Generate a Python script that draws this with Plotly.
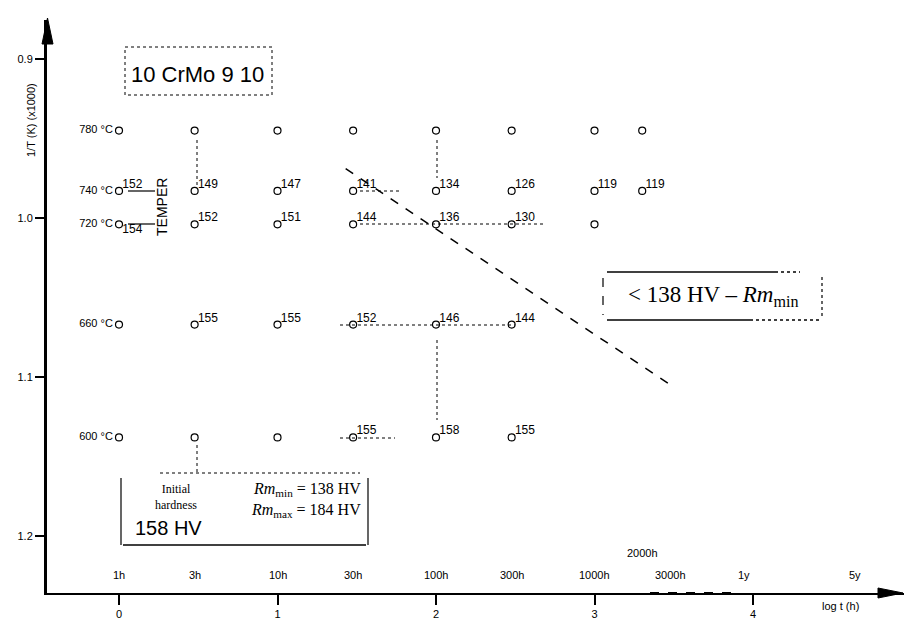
import numpy as np
import plotly.graph_objects as go

# ---------------- data ----------------
hour_cols = [1, 3, 10, 30, 100, 300, 1000, 2000]
temps = ["780 °C", "740 °C", "720 °C", "660 °C", "600 °C"]
inv_T = [0.945, 0.983, 1.004, 1.067, 1.138]          # 1000/T

row_hours = [
    [1, 3, 10, 30, 100, 300, 1000, 2000],
    [1, 3, 10, 30, 100, 300, 1000, 2000],
    [1, 3, 10, 30, 100, 300, 1000],
    [1, 3, 10, 30, 100, 300],
    [1, 3, 10, 30, 100, 300],
]
row_hardness = [
    [None] * 8,
    [152, 149, 147, 141, 134, 126, 119, 119],
    [154, 152, 151, 144, 136, 130, None],
    [None, 155, 155, 152, 146, 144],
    [None, None, None, 155, 158, 155],
]

limit_x = [1.43, 3.51]        # log t of the 138 HV limit line
limit_y = [0.969, 1.107]      # 1000/T of the limit line

time_hours = [1, 3, 10, 30, 100, 300, 1000, 3000, 8760, 43800]
time_labels = ["1h", "3h", "10h", "30h", "100h", "300h", "1000h", "3000h", "1y", "5y"]
x_ticks = [0, 1, 2, 3, 4]
y_ticks = [0.9, 1.0, 1.1, 1.2]
y_tick_labels = ["0.9", "1.0", "1.1", "1.2"]

# ---------------- geometry ----------------
W, H = 904, 621
L, R, T, B = 47, 0, 20, 28
PXX = 158.5       # px per log unit
PXY = 1590.0      # px per 1/T unit
X0 = 119          # px of log t = 0
Y0 = 59           # px of 0.9


def dx(p):
    return (p - X0) / PXX


def dy(p):
    return 0.9 + (p - Y0) / PXY


def px_paper(p):
    return (p - L) / (W - L - R)


def py_paper(p):
    return (H - B - p) / (H - B - T)


xr = [dx(L), dx(W - R)]
yr = [dy(H - B), dy(T)]

fig = go.Figure()

FONT = "Liberation Sans, Arial, sans-serif"
SERIF = "Liberation Serif, Times New Roman, serif"

# limit line
fig.add_trace(go.Scatter(x=limit_x, y=limit_y, mode="lines",
                         line=dict(color="black", width=1.5, dash="dash"),
                         hoverinfo="skip", showlegend=False))

# points and hardness labels
for idx, (yv, hrs, hv) in enumerate(zip(inv_T, row_hours, row_hardness)):
    xs = np.log10(hrs)
    ys = [yv] * len(hrs)
    fig.add_trace(go.Scatter(
        x=xs, y=ys, mode="markers",
        marker=dict(symbol="circle-open", size=7, color="black", line=dict(width=1.2)),
        showlegend=False, hoverinfo="skip"))
    lx, ly, lt, lp = [], [], [], []
    for j, (xv, h) in enumerate(zip(xs, hv)):
        if h is None:
            continue
        lx.append(xv)
        ly.append(yv)
        lt.append(" " + str(h))
        lp.append("bottom right" if (idx == 2 and j == 0) else "top right")
    if lt:
        fig.add_trace(go.Scatter(
            x=lx, y=ly, mode="text", text=lt, textposition=lp,
            textfont=dict(family=FONT, size=12, color="black"),
            showlegend=False, hoverinfo="skip"))

# temperature labels
fig.add_trace(go.Scatter(
    x=[np.log10(r[0]) for r in row_hours], y=inv_T, mode="text",
    text=[t + "  " for t in temps], textposition="middle left",
    textfont=dict(family=FONT, size=11, color="black"),
    showlegend=False, hoverinfo="skip"))

ann = []
# time labels above axis
for h, lab in zip(time_hours, time_labels):
    ann.append(dict(x=np.log10(h), y=dy(575), text=lab, showarrow=False,
                    xanchor="center", yanchor="middle",
                    font=dict(family=FONT, size=11, color="black")))
ann.append(dict(x=np.log10(2000), y=dy(553), text="2000h", showarrow=False,
                xanchor="center", yanchor="middle",
                font=dict(family=FONT, size=11, color="black")))
ann.append(dict(x=px_paper(840), y=py_paper(606), xref="paper", yref="paper",
                xanchor="center", yanchor="middle",
                text="log t (h)", showarrow=False,
                font=dict(family=FONT, size=11, color="black")))
# y axis title
ann.append(dict(x=px_paper(31), y=py_paper(120), xref="paper", yref="paper",
                xanchor="center", yanchor="middle",
                text="1/T (K) (x1000)", textangle=-90, showarrow=False,
                font=dict(family=FONT, size=11, color="black")))
# title
ann.append(dict(x=dx(197), y=dy(74), text="10 CrMo 9 10", showarrow=False,
                xanchor="center", yanchor="middle",
                font=dict(family=FONT, size=22, color="black")))
# TEMPER
ann.append(dict(x=dx(162), y=dy(207), text="TEMPER", textangle=-90, showarrow=False,
                xanchor="center", yanchor="middle",
                font=dict(family=FONT, size=14, color="black")))
# limit box text
ann.append(dict(x=dx(713), y=dy(296),
                xanchor="center", yanchor="middle",
                text="&lt; 138 HV – <i>Rm</i><sub>min</sub>", showarrow=False,
                font=dict(family=SERIF, size=23, color="black")))
# initial hardness box
ann.append(dict(x=dx(176), y=dy(497), text="Initial<br>hardness", showarrow=False,
                xanchor="center", yanchor="middle",
                font=dict(family=SERIF, size=12, color="black")))
ann.append(dict(x=dx(168), y=dy(528), text="158 HV", showarrow=False,
                xanchor="center", yanchor="middle",
                font=dict(family=FONT, size=20, color="black")))
ann.append(dict(x=dx(363), y=dy(489), xanchor="right", yanchor="middle",
                text="<i>Rm</i><sub>min</sub> = 138 HV", showarrow=False,
                font=dict(family=SERIF, size=16, color="black")))
ann.append(dict(x=dx(363), y=dy(510), xanchor="right", yanchor="middle",
                text="<i>Rm</i><sub>max</sub> = 184 HV", showarrow=False,
                font=dict(family=SERIF, size=16, color="black")))

shapes = []


def line(x0, y0, x1, y1, dash="solid", width=1, color="black"):
    shapes.append(dict(type="line", x0=dx(x0), y0=dy(y0), x1=dx(x1), y1=dy(y1),
                       line=dict(color=color, width=width, dash=dash)))


def tri(pts):
    path = "M " + " L ".join(f"{px_paper(a)},{py_paper(b)}" for a, b in pts) + " Z"
    shapes.append(dict(type="path", xref="paper", yref="paper", path=path,
                       fillcolor="black", layer="above",
                       line=dict(color="black", width=1)))


# axis arrow heads
tri([(47.5, 18), (42, 44), (53, 44)])
tri([(903, 593), (878, 588), (878, 598)])

# title box
shapes.append(dict(type="rect", x0=dx(125), y0=dy(47), x1=dx(272), y1=dy(95),
                   line=dict(color="black", width=1, dash="dot")))
# TEMPER connectors
line(128, 191, 155, 191, width=1.2)
line(128, 224, 155, 224, width=1.2)
# limit box
line(607, 272, 775, 272, width=1.5)
line(775, 272, 800, 272, dash="dot", width=1.5)
line(607, 320, 750, 320, width=1.5)
line(750, 320, 822, 320, dash="dot", width=1.5)
line(603, 278, 603, 315, dash="dash", width=1.2)
line(822, 277, 822, 318, dash="dot", width=1.2)
# initial hardness box
line(121, 478, 121, 545, width=1.2)
line(368, 478, 368, 545, width=1.2)
line(123, 545, 366, 545, width=1.5)
line(160, 473, 360, 473, dash="dot", width=1)
# faint guide lines
line(197, 140, 197, 185, dash="dot")
line(437, 140, 437, 178, dash="dot")
line(437, 340, 437, 420, dash="dot")
line(197, 445, 197, 472, dash="dot")
line(360, 224, 545, 224, dash="dot")
line(340, 325, 515, 325, dash="dot")
line(340, 438, 395, 438, dash="dot")
line(360, 191, 400, 191, dash="dot")
# broken part of the time axis
line(650, 593, 740, 593, width=4, color="white")
line(650, 593, 740, 593, dash="dash", width=2)

fig.update_layout(
    width=W, height=H,
    margin=dict(l=L, r=R, t=T, b=B),
    paper_bgcolor="white", plot_bgcolor="white",
    showlegend=False,
    annotations=ann, shapes=shapes,
    xaxis=dict(range=xr, tickmode="array", tickvals=x_ticks,
               ticktext=[str(v) for v in x_ticks],
               showgrid=False, zeroline=False, showline=True, linecolor="black",
               linewidth=2, ticks="outside", ticklen=10, tickwidth=1.5, tickcolor="black",
               tickfont=dict(family=FONT, size=11, color="black")),
    yaxis=dict(range=yr, tickmode="array", tickvals=y_ticks,
               ticktext=y_tick_labels,
               showgrid=False, zeroline=False, showline=True, linecolor="black",
               linewidth=3, ticks="outside", ticklen=9, tickwidth=1.5, tickcolor="black",
               tickfont=dict(family=FONT, size=11, color="black")),
)

fig.write_html("out.html")
